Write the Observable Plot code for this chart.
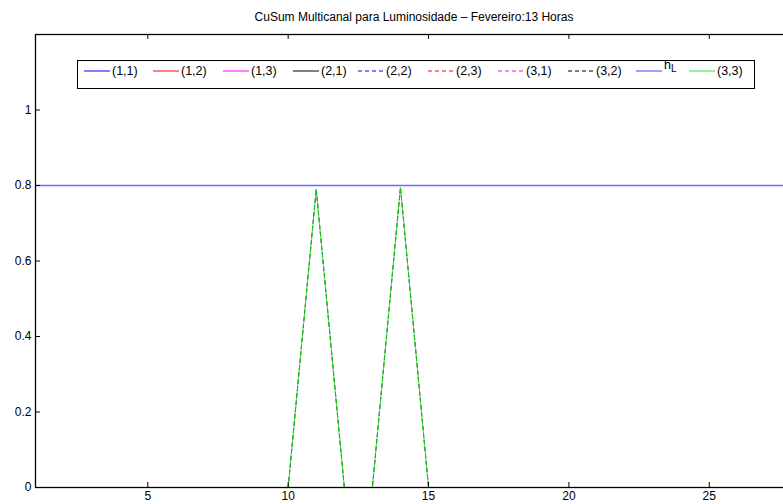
<!DOCTYPE html>
<html><head><meta charset="utf-8">
<script src="https://cdn.jsdelivr.net/npm/d3@7"></script>
<script src="https://cdn.jsdelivr.net/npm/@observablehq/plot@0.6"></script>
<style>
html,body{margin:0;padding:0;overflow:hidden;background:#fff;width:783px;height:504px}
#wrap{position:relative;width:783px;height:504px;overflow:hidden;font-family:"Liberation Sans",Arial,Helvetica,sans-serif;color:#000}
#chart{position:absolute;left:0;top:0;width:800px;height:504px}
#chart svg{max-width:none !important}
#title{position:absolute;left:0;width:828px;top:10px;text-align:center;font-size:12px;line-height:14px;z-index:2}
#legend{position:absolute;left:77px;top:60px;width:676px;height:27px;border:1.5px solid #000;background:#fff;font-size:12.5px;z-index:2}
.item{position:absolute;top:3px;height:14px;line-height:14px;white-space:nowrap}
.item svg{vertical-align:middle;margin-right:2px;position:relative;top:-1px}
sub{font-size:10px;vertical-align:-3px}
.hl{position:relative;top:-6px}
</style></head>
<body>
<div id="wrap">
<div id="chart"></div>
<div id="title"></div>
<div id="legend"></div>
</div>
<script>
const title = "CuSum Multicanal para Luminosidade – Fevereiro:13 Horas";
const hours = [1,2,3,4,5,6,7,8,9,10,11,12,13,14,15,16,17,18,19,20,21,22,23,24,25,26,27,28];
const zeros = [0,0,0,0,0,0,0,0,0,0,0,0,0,0,0,0,0,0,0,0,0,0,0,0,0,0,0,0];
const s32   = [0,0,0,0,0,0,0,0,0,0,0.79,0,0,0.795,0,0,0,0,0,0,0,0,0,0,0,0,0,0];
const s33   = [0,0,0,0,0,0,0,0,0,0,0.79,0,0,0.795,0,0,0,0,0,0,0,0,0,0,0,0,0,0];
const hL = 0.8;
const seriesNames  = ["(1,1)","(1,2)","(1,3)","(2,1)","(2,2)","(2,3)","(3,1)","(3,2)","hL","(3,3)"];
const seriesColors = ["#0000ff","#ff0000","#ff00ff","#000000","#0000ff","#ff0000","#ff00ff","#000000","#4040ff","#22ee22"];
const seriesDash   = [null,null,null,null,"4,3","4,3","4,3","4,3",null,null];
const seriesValues = [zeros,zeros,zeros,zeros,zeros,zeros,zeros,s32,null,s33];
const legendX = [6,75,145,215,280,350,420,490,558,611];
const xTicks = [5,10,15,20,25];
const yTicks = [0,0.2,0.4,0.6,0.8,1];

document.getElementById("title").textContent = title;

const W = 800, H = 504, mL = 35, mT = 34, mB = 17, mR = 7;
const pw = W - mL - mR, ph = H - mT - mB;

const lineMarks = [];
const drawOrder = [0,1,2,3,4,5,6,7,8,9];
for (const i of drawOrder) {
  if (seriesNames[i] === "hL") {
    lineMarks.push(Plot.ruleY([hL], {stroke: "#6a6aff", strokeWidth: 1.3}));
    continue;
  }
  const rows = hours.map((h, k) => ({x: h, y: seriesValues[i][k]}));
  lineMarks.push(Plot.line(rows, {
    x: "x", y: "y",
    stroke: seriesColors[i],
    strokeWidth: i === 9 ? 1.1 : 1,
    strokeDasharray: seriesDash[i] || undefined,
    strokeOpacity: i === 9 ? 0.8 : 1
  }));
}

const chart = Plot.plot({
  width: W, height: H,
  marginLeft: mL, marginTop: mT, marginBottom: mB, marginRight: mR,
  x: {domain: [1, 28]},
  y: {domain: [0, 1.2]},
  style: {fontFamily: '"Liberation Sans", Arial, sans-serif', fontSize: "12px", color: "#000", background: "#fff", maxWidth: "none"},
  marks: [
    ...lineMarks,
    Plot.ruleX(xTicks, {x: d => d, insetTop: ph - 5, stroke: "#000"}),
    Plot.ruleX(xTicks, {x: d => d, insetBottom: ph - 5, stroke: "#000"}),
    Plot.ruleY(yTicks, {y: d => d, insetRight: pw - 5, stroke: "#000"}),
    Plot.ruleY(yTicks, {y: d => d, insetLeft: pw - 5, stroke: "#000"}),
    Plot.frame({stroke: "#000", strokeWidth: 1.3}),
    Plot.axisX(xTicks, {tickSize: 0, tickPadding: 4, label: null, fontSize: 12}),
    Plot.axisY(yTicks, {tickSize: 0, tickPadding: 4, label: null, tickFormat: d => String(d), fontSize: 12})
  ]
});
document.getElementById("chart").appendChild(chart);

const legend = document.getElementById("legend");
seriesNames.forEach((name, i) => {
  const div = document.createElement("div");
  div.className = "item";
  div.style.left = legendX[i] + "px";
  const dash = seriesDash[i] ? `stroke-dasharray="${seriesDash[i]}"` : "";
  const label = name === "hL" ? '<span class="hl">h<sub>L</sub></span>' : name;
  div.innerHTML = `<svg width="26" height="4"><line x1="0" y1="2" x2="26" y2="2" stroke="${seriesColors[i]}" stroke-width="1" ${dash}/></svg>${label}`;
  legend.appendChild(div);
});
</script>
</body></html>
